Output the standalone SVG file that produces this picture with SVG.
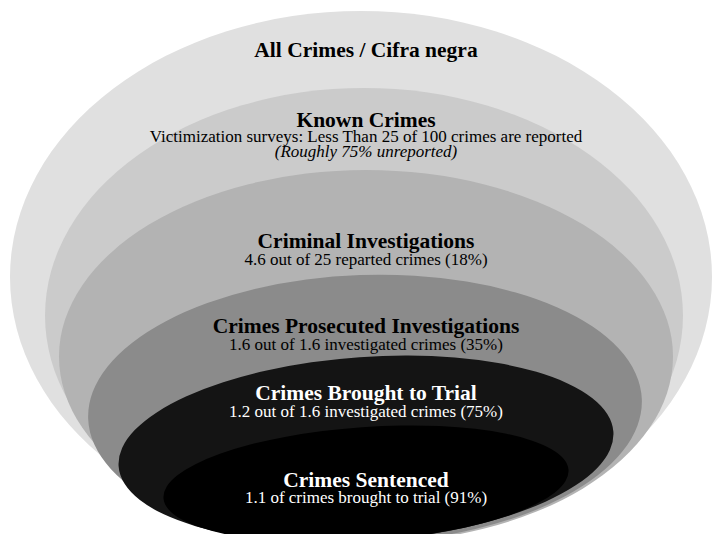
<svg xmlns="http://www.w3.org/2000/svg" width="716" height="534" viewBox="0 0 716 534">
<style>
text{font-family:"Liberation Serif","Times New Roman",serif;text-anchor:middle}
.t{font-size:21.5px;font-weight:bold;fill:#000}
.s{font-size:17px;fill:#000}
.i{font-style:italic}
.w{fill:#fff}
</style>
<rect width="716" height="534" fill="#fff"/>
<g id="all-crimes">
<ellipse cx="361" cy="277" rx="351" ry="266" fill="#e0e0e0"/>
<text class="t" x="366" y="57">All Crimes / Cifra negra</text>
</g>
<g id="known-crimes">
<ellipse cx="364" cy="315.5" rx="319" ry="227.5" fill="#cbcbcb"/>
<text class="t" x="366" y="127">Known Crimes</text>
<text class="s" x="366" y="142">Victimization surveys: Less Than 25 of 100 crimes are reported</text>
<text class="s i" x="366" y="157">(Roughly 75% unreported)</text>
</g>
<g id="criminal-investigations">
<ellipse cx="366" cy="356.5" rx="307" ry="186.5" fill="#b3b3b3"/>
<text class="t" x="366" y="248">Criminal Investigations</text>
<text class="s" x="366" y="265">4.6 out of 25 reparted crimes (18%)</text>
</g>
<g id="crimes-prosecuted">
<ellipse cx="365" cy="409" rx="277" ry="134" fill="#8b8b8b" transform="rotate(-2 365 409)"/>
<text class="t" x="366" y="333">Crimes Prosecuted Investigations</text>
<text class="s" x="366" y="350">1.6 out of 1.6 investigated crimes (35%)</text>
</g>
<g id="brought-to-trial">
<ellipse cx="366" cy="449" rx="248" ry="92" fill="#141414" transform="rotate(-4 366 449)"/>
<text class="t w" x="366" y="400">Crimes Brought to Trial</text>
<text class="s w" x="366" y="417">1.2 out of 1.6 investigated crimes (75%)</text>
</g>
<g id="crimes-sentenced">
<ellipse cx="366" cy="484" rx="203" ry="57" fill="#000" transform="rotate(-4 366 484)"/>
<text class="t w" x="366" y="487">Crimes Sentenced</text>
<text class="s w" x="366" y="503">1.1 of crimes brought to trial (91%)</text>
</g>
<g id="connectors"></g>
</svg>
